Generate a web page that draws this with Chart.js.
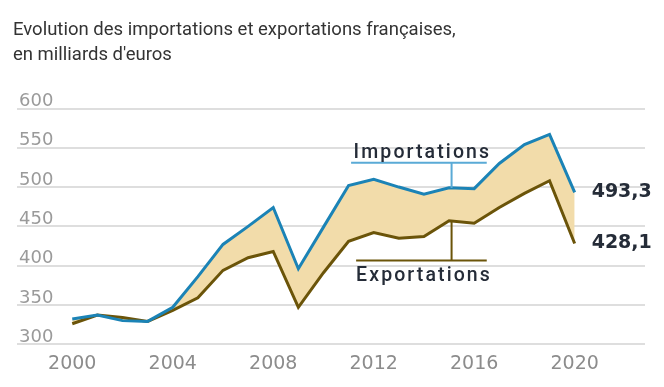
<!DOCTYPE html>
<html>
<head>
<meta charset="utf-8">
<script src="https://cdn.jsdelivr.net/npm/chart.js@4"></script>
<style>
  html, body { margin: 0; padding: 0; background: #fff; }
  #wrap { width: 664px; height: 387px; position: relative; }
</style>
</head>
<body>
<div id="wrap"><canvas id="chart"></canvas></div>
<script>
// Data (milliards d'euros)
const years = [2000, 2001, 2002, 2003, 2004, 2005, 2006, 2007, 2008, 2009, 2010,
               2011, 2012, 2013, 2014, 2015, 2016, 2017, 2018, 2019, 2020];
const importations = [332, 337, 330, 329, 347, 386, 427, 450, 474, 396, 449,
                      502, 510, 500, 491, 499, 498, 530, 554, 567, 493.3];
const exportations = [326, 337, 334, 329, 343, 359, 394, 410, 418, 347, 391,
                      431, 442, 435, 437, 457, 454, 474, 492, 508, 428.1];
const xTicks = [2000, 2004, 2008, 2012, 2016, 2020];
const yTicks = [300, 350, 400, 450, 500, 550, 600];

const blue = '#1b83b6';
const brown = '#6b5409';
const tan = '#f2dcaa';
const ink = '#252c38';

function points(values) {
    return years.map((yr, i) => ({ x: yr, y: values[i] }));
}

function valueAt(values, yr) {
    const i = Math.floor(yr - years[0]);
    const t = yr - years[i];
    return values[i] + (values[i + 1] - values[i]) * t;
}

// Labels, leader lines and end values
const annotations = {
    id: 'annotations',
    afterDatasetsDraw(chart) {
        const { ctx, scales: { x, y } } = chart;
        ctx.save();

        const lead = 2015.1;
        // Importations
        const impLineY = y.getPixelForValue(531);
        ctx.strokeStyle = '#5aaad6';
        ctx.lineWidth = 2;
        ctx.beginPath();
        ctx.moveTo(x.getPixelForValue(2011.1), impLineY);
        ctx.lineTo(x.getPixelForValue(2016.5), impLineY);
        ctx.moveTo(x.getPixelForValue(lead), impLineY);
        ctx.lineTo(x.getPixelForValue(lead), y.getPixelForValue(valueAt(importations, lead)));
        ctx.stroke();

        // Exportations
        const expLineY = y.getPixelForValue(406.5);
        ctx.strokeStyle = brown;
        ctx.beginPath();
        ctx.moveTo(x.getPixelForValue(2011.3), expLineY);
        ctx.lineTo(x.getPixelForValue(2016.5), expLineY);
        ctx.moveTo(x.getPixelForValue(lead), expLineY);
        ctx.lineTo(x.getPixelForValue(lead), y.getPixelForValue(valueAt(exportations, lead)));
        ctx.stroke();

        ctx.fillStyle = ink;
        ctx.font = '500 19.5px Roboto';
        ctx.letterSpacing = '2.1px';
        ctx.textAlign = 'left';
        ctx.textBaseline = 'alphabetic';
        ctx.fillText('Importations', x.getPixelForValue(2011.2), impLineY - 5);
        ctx.fillText('Exportations', x.getPixelForValue(2011.3), expLineY + 20);

        // End values
        const last = years.length - 1;
        ctx.font = 'bold 19px "DejaVu Sans"';
        ctx.letterSpacing = '0px';
        ctx.textBaseline = 'middle';
        const ex = x.getPixelForValue(years[last]) + 17;
        ctx.fillText('493,3', ex, y.getPixelForValue(importations[last]));
        ctx.fillText('428,1', ex, y.getPixelForValue(exportations[last]));
        ctx.restore();
    }
};

new Chart(document.getElementById('chart'), {
    type: 'line',
    data: {
        datasets: [
            {
                label: 'Importations',
                data: points(importations),
                borderColor: blue,
                backgroundColor: tan,
                borderWidth: 3,
                pointRadius: 0,
                tension: 0,
                fill: '+1'
            },
            {
                label: 'Exportations',
                data: points(exportations),
                borderColor: brown,
                borderWidth: 3,
                pointRadius: 0,
                tension: 0,
                fill: false
            }
        ]
    },
    options: {
        responsive: true,
        maintainAspectRatio: false,
        animation: false,
        events: [],
        layout: { padding: { left: 13, right: 19, top: 0, bottom: 12 } },
        plugins: {
            legend: { display: false },
            tooltip: { enabled: false },
            filler: { drawTime: 'beforeDatasetsDraw' },
            title: {
                display: true,
                align: 'start',
                text: ['Evolution des importations et exportations françaises,', 'en milliards d\'euros'],
                color: '#333',
                font: { family: 'Roboto, sans-serif', size: 18.5, weight: 'normal', lineHeight: '25px' },
                padding: { top: 18, bottom: 40.5 }
            }
        },
        scales: {
            x: {
                type: 'linear',
                min: 1997.8,
                max: 2022.8,
                afterBuildTicks(scale) {
                    scale.ticks = xTicks.map(v => ({ value: v }));
                },
                grid: { display: false },
                border: { display: false },
                ticks: {
                    color: '#8c8c8c',
                    font: { family: '"DejaVu Sans"', size: 19 },
                    padding: 0,
                    maxRotation: 0,
                    callback: v => String(v)
                }
            },
            y: {
                min: 300,
                max: 600,
                afterBuildTicks(scale) {
                    scale.ticks = yTicks.map(v => ({ value: v }));
                },
                grid: { color: '#dedede', lineWidth: 2, drawTicks: false },
                border: { display: false },
                ticks: {
                    mirror: true,
                    labelOffset: -7,
                    padding: 2,
                    color: '#9a9a9a',
                    font: { family: '"DejaVu Sans"', size: 18 }
                }
            }
        }
    },
    plugins: [annotations]
});
</script>
</body>
</html>
